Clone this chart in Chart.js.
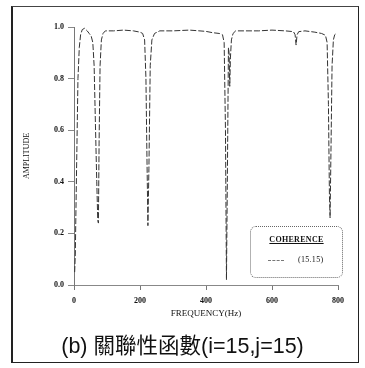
<!DOCTYPE html>
<html><head><meta charset="utf-8">
<script src="https://cdn.jsdelivr.net/npm/chart.js@4/dist/chart.umd.min.js"></script>
<style>
html,body{margin:0;padding:0;background:#fff;}
#wrap{position:relative;width:365px;height:368px;}
#frame{position:absolute;left:11px;top:6px;width:345px;height:355px;border:1px solid #222;border-top-color:#444;border-left-width:2px;}
#c{position:absolute;left:0;top:0;}
#legend{position:absolute;left:250px;top:226px;width:91px;height:50px;border:1px dotted #666;border-radius:6px;font-family:"Liberation Serif",serif;color:#111;}
#legend .t{position:absolute;left:0;width:100%;top:8px;text-align:center;font-size:8px;font-weight:bold;text-decoration:underline;letter-spacing:0.3px;}
#legend .s{position:absolute;left:17px;top:33px;width:16px;border-top:1px dashed #777;}
#legend .l{position:absolute;left:47px;top:28px;font-size:8px;letter-spacing:0.3px;}
#cap{position:absolute;left:0;width:365px;top:328px;text-align:center;font-family:"Liberation Sans","Noto Sans CJK TC",sans-serif;font-size:21.5px;color:#111;}
</style></head>
<body>
<div id="wrap">
<canvas id="c" width="365" height="368"></canvas>
<div id="frame"></div>
<div id="legend"><div class="t" id="lt"></div><div class="s"></div><div class="l" id="ll"></div></div>
<div id="cap"></div>
</div>
<script>
const caption = "(b) 關聯性函數(i=15,j=15)";
const legendTitle = "COHERENCE";
const seriesLabel = "(15.15)";
const xTitle = "FREQUENCY(Hz)";
const yTitle = "AMPLITUDE";
const xTicks = [0, 200, 400, 600, 800];
const yTicks = ["0.0", "0.2", "0.4", "0.6", "0.8", "1.0"];
const freq = [2, 4, 6, 9, 12, 16, 20, 25, 32, 40, 46, 52, 57, 61, 65, 69, 72, 74, 76, 79, 83, 88, 95, 120, 150, 180, 200, 208, 214, 218, 221, 224, 227, 231, 236, 244, 260, 300, 350, 400, 420, 440, 450, 455, 459, 462, 465, 468, 470, 472, 474, 477, 482, 490, 520, 560, 600, 640, 665, 670, 673, 676, 681, 700, 730, 750, 762, 767, 771, 774, 776, 779, 782, 786, 790, 795];
const coherence = [0.05, 0.12, 0.30, 0.55, 0.80, 0.92, 0.97, 0.99, 0.995, 0.985, 0.975, 0.965, 0.94, 0.85, 0.62, 0.40, 0.25, 0.24, 0.55, 0.85, 0.95, 0.975, 0.985, 0.985, 0.988, 0.985, 0.98, 0.975, 0.95, 0.80, 0.50, 0.23, 0.45, 0.85, 0.95, 0.975, 0.985, 0.985, 0.988, 0.983, 0.978, 0.975, 0.97, 0.94, 0.60, 0.02, 0.45, 0.92, 0.90, 0.77, 0.88, 0.95, 0.975, 0.985, 0.985, 0.985, 0.988, 0.985, 0.982, 0.97, 0.93, 0.97, 0.982, 0.985, 0.98, 0.975, 0.968, 0.94, 0.70, 0.35, 0.26, 0.55, 0.85, 0.95, 0.97, 0.975];

document.getElementById('cap').textContent = caption;
document.getElementById('lt').textContent = legendTitle;
document.getElementById('ll').textContent = seriesLabel;

const pts = freq.map((f, i) => ({x: f, y: coherence[i]}));

new Chart(document.getElementById('c'), {
  type: 'line',
  data: { datasets: [{ label: seriesLabel, data: pts, borderColor: '#333', borderWidth: 1, borderDash: [6, 2], pointRadius: 0, tension: 0, fill: false }] },
  options: {
    responsive: false, animation: false,
    layout: { padding: { left: 22, top: 27, right: 27, bottom: 49 } },
    plugins: { legend: { display: false }, tooltip: { enabled: false } },
    scales: {
      x: {
        type: 'linear', min: 0, max: 800,
        afterBuildTicks: s => { s.ticks = xTicks.map(v => ({value: v})); },
        afterFit: s => { s.height = 34; },
        grid: { display: true, drawOnChartArea: false, drawTicks: true, tickLength: 5, color: '#777', tickColor: '#777' },
        border: { display: true, color: '#888', dash: [2, 2], width: 1 },
        ticks: { color: '#111', padding: 6, maxRotation: 0, font: { family: 'Liberation Serif', size: 8, weight: 'bold' } },
        title: { display: true, text: xTitle, color: '#111', padding: { top: 0, bottom: 0 }, font: { family: 'Liberation Serif', size: 9 } }
      },
      y: {
        type: 'linear', min: 0, max: 1,
        afterBuildTicks: s => { s.ticks = yTicks.map(v => ({value: parseFloat(v)})); },
        afterFit: s => { s.width = 52; },
        grid: { display: true, drawOnChartArea: false, drawTicks: true, tickLength: 6, color: '#888', tickColor: '#888' },
        border: { display: true, color: '#777', dash: [3, 2], width: 1 },
        ticks: { color: '#111', padding: 4, callback: (v, i) => yTicks[i], font: { family: 'Liberation Serif', size: 8, weight: 'bold' } },
        title: { display: true, text: yTitle, color: '#111', padding: { top: 0, bottom: 0 }, font: { family: 'Liberation Serif', size: 8 } }
      }
    }
  }
});
</script>
</body></html>
